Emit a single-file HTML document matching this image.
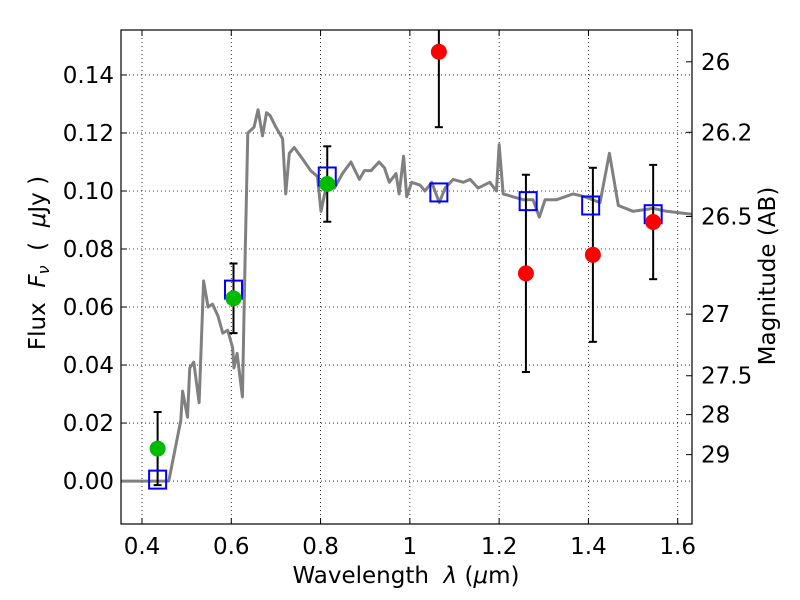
<!DOCTYPE html>
<html><head><meta charset="utf-8"><style>
body{margin:0;background:#fff}
svg{display:block;font-family:"DejaVu Sans","Liberation Sans",sans-serif}
</style></head><body>
<svg id="chart" width="800" height="600"></svg>
<script>
const specLam=[0.35,0.46,0.487,0.491,0.502,0.507,0.516,0.528,0.538,0.548,0.558,0.570,0.581,0.592,0.603,0.606,0.613,0.625,0.631,0.637,0.651,0.660,0.670,0.679,0.687,0.700,0.715,0.722,0.730,0.741,0.760,0.778,0.793,0.801,0.812,0.831,0.849,0.868,0.887,0.898,0.913,0.931,0.943,0.954,0.969,0.976,0.986,0.993,1.004,1.023,1.034,1.049,1.066,1.079,1.097,1.120,1.135,1.153,1.179,1.194,1.200,1.209,1.231,1.254,1.276,1.290,1.303,1.329,1.366,1.392,1.426,1.447,1.467,1.500,1.545,1.575,1.632];
const specFlux=[0,0,0.021,0.031,0.022,0.039,0.041,0.027,0.069,0.060,0.061,0.057,0.051,0.052,0.046,0.039,0.044,0.029,0.077,0.120,0.122,0.128,0.119,0.127,0.126,0.122,0.118,0.099,0.113,0.115,0.111,0.107,0.105,0.093,0.101,0.101,0.106,0.110,0.104,0.107,0.107,0.110,0.108,0.103,0.106,0.099,0.112,0.098,0.103,0.102,0.100,0.103,0.096,0.101,0.104,0.103,0.104,0.101,0.103,0.100,0.116,0.099,0.098,0.097,0.097,0.091,0.097,0.097,0.099,0.098,0.096,0.113,0.095,0.093,0.094,0.093,0.092];
const greenLam=[0.435,0.605,0.815];
const greenFlux=[0.0112,0.063,0.1024];
const greenErr=[0.0126,0.012,0.013];
const redLam=[1.065,1.26,1.41,1.545];
const redFlux=[0.148,0.0716,0.078,0.0893];
const redErr=[0.026,0.034,0.030,0.0197];
const modelLam=[0.435,0.605,0.815,1.065,1.265,1.405,1.545];
const modelFlux=[0.0005,0.066,0.105,0.0995,0.0965,0.095,0.092];
const xTicks=[0.4,0.6,0.8,1.0,1.2,1.4,1.6];
const xTickLabels=["0.4","0.6","0.8","1","1.2","1.4","1.6"];
const yTicks=[0,0.02,0.04,0.06,0.08,0.10,0.12,0.14];
const yTickLabels=["0.00","0.02","0.04","0.06","0.08","0.10","0.12","0.14"];
const magTicks=[26,26.2,26.5,27,27.5,28,29];
const magTickLabels=["26","26.2","26.5","27","27.5","28","29"];

const L=121,R=692,T=30,B=524;
const X0=0.353,X1=1.632,Y0=-0.0148,Y1=0.1555;
const sx=v=>L+(v-X0)/(X1-X0)*(R-L);
const sy=v=>B-(v-Y0)/(Y1-Y0)*(B-T);
const magToFlux=m=>Math.pow(10,-0.4*(m-23.9));
const svg=document.getElementById('chart');
const NS='http://www.w3.org/2000/svg';
function mk(tag,attrs,parent){const e=document.createElementNS(NS,tag);for(const k in attrs)e.setAttribute(k,attrs[k]);(parent||svg).appendChild(e);return e;}

const defs=mk('clipPath',{id:'clip'});mk('rect',{x:L,y:T,width:R-L,height:B-T},defs);

xTicks.forEach((t,i)=>{const x=sx(t);
 const g=mk('line',{x1:x,x2:x,y1:T,y2:B,stroke:'#000','stroke-width':0.8,'stroke-dasharray':'1,3'});
 
 mk('line',{x1:x,x2:x,y1:B,y2:B-6,stroke:'#000'});mk('line',{x1:x,x2:x,y1:T,y2:T+6,stroke:'#000'});
 const tx=mk('text',{x:x,y:B+30,'text-anchor':'middle','font-size':23});tx.textContent=xTickLabels[i];
 });
yTicks.forEach((t,i)=>{const y=sy(t);
 const g=mk('line',{x1:L,x2:R,y1:y,y2:y,stroke:'#000','stroke-width':0.8,'stroke-dasharray':'1,3'});
 
 mk('line',{x1:L,x2:L+6,y1:y,y2:y,stroke:'#000'});
 const tx=mk('text',{x:L-7,y:y+8,'text-anchor':'end','font-size':23});tx.textContent=yTickLabels[i];
 });
magTicks.forEach((m,i)=>{const y=sy(magToFlux(m));
 mk('line',{x1:R-6,x2:R,y1:y,y2:y,stroke:'#000'});
 const tx=mk('text',{x:R+9,y:y+8,'font-size':23});tx.textContent=magTickLabels[i];
 });

const g=mk('g',{'clip-path':'url(#clip)'});
const p=mk('polyline',{points:specLam.map((l,i)=>sx(l)+','+sy(specFlux[i])).join(' '),fill:'none',stroke:'#808080','stroke-width':3,'stroke-linejoin':'round'},g);

function ebar(l,f,e,name){const x=sx(l);
 const grp=mk('g',{},g);
 mk('line',{x1:x,x2:x,y1:sy(f+e),y2:sy(f-e),stroke:'#000','stroke-width':2},grp);
 [f+e,f-e].forEach(v=>mk('line',{x1:x-4,x2:x+4,y1:sy(v),y2:sy(v),stroke:'#000','stroke-width':2},grp));}
greenLam.forEach((l,i)=>ebar(l,greenFlux[i],greenErr[i],'green-error-bar'));
redLam.forEach((l,i)=>ebar(l,redFlux[i],redErr[i],'red-error-bar'));
modelLam.forEach((l,i)=>{const r=mk('rect',{x:sx(l)-8.5,y:sy(modelFlux[i])-9,width:17,height:18,fill:'none',stroke:'#0000ff','stroke-width':2},g);
 });
greenLam.forEach((l,i)=>{const c=mk('circle',{cx:sx(l),cy:sy(greenFlux[i]),r:8,fill:'#00bb00'},g);
 });
redLam.forEach((l,i)=>{const c=mk('circle',{cx:sx(l),cy:sy(redFlux[i]),r:8,fill:'#ff0000'},g);
 });

const fr=mk('rect',{x:L,y:T,width:R-L,height:B-T,fill:'none',stroke:'#000','stroke-width':1.2});


const xl=mk('text',{x:406,y:583,'text-anchor':'middle','font-size':23,'xml:space':'preserve'});
xl.setAttribute('style','white-space:pre');
xl.innerHTML='Wavelength  <tspan font-style="italic">λ</tspan> (<tspan font-style="italic">μ</tspan>m)';

const yl=mk('text',{x:0,y:0,'text-anchor':'middle','font-size':23,transform:'translate(45,263) rotate(-90)'});
yl.setAttribute('style','white-space:pre');
yl.innerHTML='Flux  <tspan font-style="italic">F</tspan><tspan font-style="italic" font-size="16" dy="4">ν</tspan><tspan dy="-4">  (  </tspan><tspan font-style="italic">μ</tspan>Jy )';

const ml=mk('text',{x:0,y:0,'text-anchor':'middle','font-size':23,transform:'translate(775,276) rotate(-90)'});
ml.textContent='Magnitude (AB)';

</script>
</body></html>
